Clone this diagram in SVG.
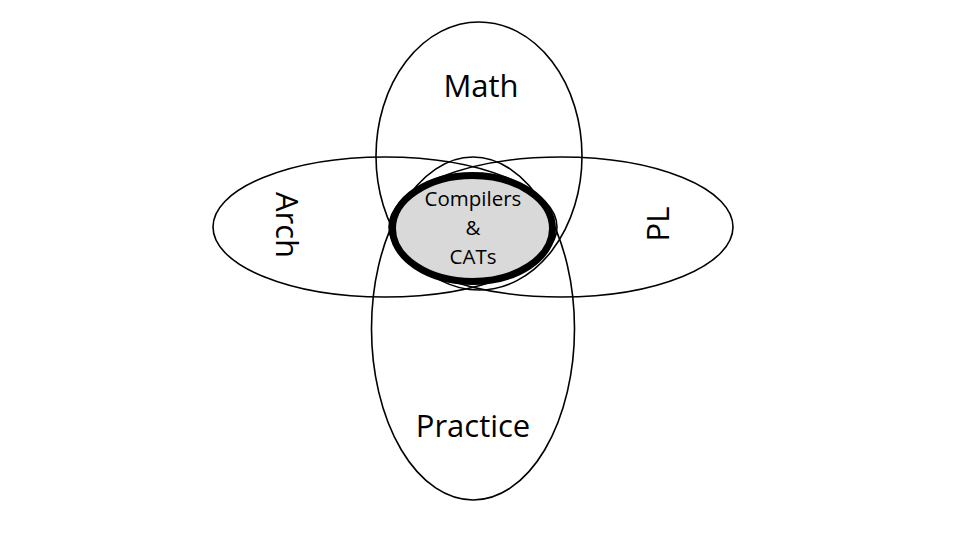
<svg xmlns="http://www.w3.org/2000/svg" width="960" height="540" viewBox="0 0 960 540">
<style>
.set{fill:none;stroke:#000;stroke-width:1.6}
.lbl{font-family:"Open Sans","Liberation Sans",sans-serif;font-size:31px;fill:#000;text-anchor:middle}
.core{fill:#d9d9d9;stroke:#000;stroke-width:7}
.small{font-family:"Open Sans","Liberation Sans",sans-serif;font-size:20.5px;fill:#000;text-anchor:middle}
</style>
<rect width="960" height="540" fill="#fff"/>
<g id="math"><ellipse class="set" cx="479" cy="156" rx="103" ry="134"/><text class="lbl" x="481" y="97">Math</text></g>
<g id="practice"><ellipse class="set" cx="473" cy="328.5" rx="101.5" ry="171.5"/><text class="lbl" x="473" y="437">Practice</text></g>
<g id="arch"><ellipse class="set" cx="385" cy="227" rx="172" ry="70"/><text class="lbl" transform="translate(276,225) rotate(90)">Arch</text></g>
<g id="pl"><ellipse class="set" cx="561" cy="227" rx="172" ry="70"/><text class="lbl" transform="translate(669,224) rotate(-90)">PL</text></g>
<g id="core"><ellipse class="core" cx="472.5" cy="228.5" rx="80" ry="53"/>
<text class="small" x="473" y="206">Compilers</text>
<text class="small" x="473" y="235">&amp;</text>
<text class="small" x="473" y="264">CATs</text></g>
<g id="connectors"/>
</svg>
